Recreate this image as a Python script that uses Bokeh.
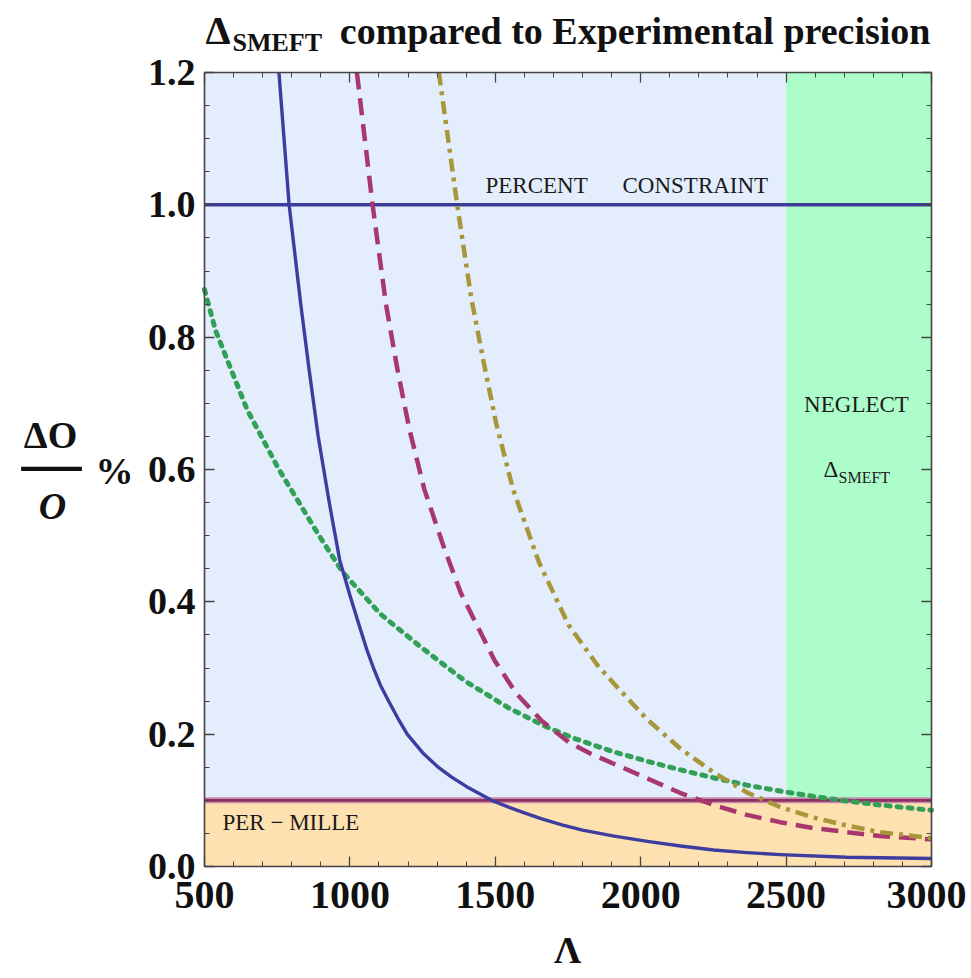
from bokeh.plotting import figure
from bokeh.models import (LinearAxis, FixedTicker, PrintfTickFormatter, CustomJSTickFormatter,
                          BoxAnnotation, Label, Range1d)
from bokeh.embed import file_html
from bokeh.resources import INLINE

# ---------------- data ----------------
LAM_BLUE = [756, 791, 831, 860, 891, 929, 965, 1000, 1035, 1058, 1081, 1105, 1133, 1165, 1197,
            1250, 1301, 1350, 1400, 1492, 1550, 1600, 1660, 1729, 1800, 1909, 2023, 2137,
            2251, 2365, 2479, 2708, 3000]
V_BLUE = [1.2, 1.0, 0.85, 0.75, 0.65, 0.55, 0.463, 0.41, 0.36, 0.328, 0.30, 0.274, 0.25, 0.224,
          0.20, 0.172, 0.151, 0.135, 0.121, 0.099, 0.089, 0.081, 0.072, 0.063, 0.055, 0.046,
          0.038, 0.031, 0.025, 0.021, 0.018, 0.014, 0.012]

LAM_MAG = [1024, 1078, 1124, 1164, 1205, 1256, 1325, 1382, 1440, 1498, 1573, 1660, 1752,
           1830, 1909, 2023, 2137, 2251, 2365, 2479, 2594, 2708, 2822, 3000]
V_MAG = [1.2, 1.0, 0.85, 0.75, 0.66, 0.57, 0.48, 0.413, 0.362, 0.311, 0.261, 0.220, 0.188,
         0.170, 0.155, 0.133, 0.111, 0.093, 0.078, 0.067, 0.058, 0.052, 0.046, 0.041]

LAM_OLIVE = [1306, 1369, 1417, 1461, 1503, 1561, 1650, 1752, 1850, 1909, 2023, 2137, 2251,
             2365, 2479, 2594, 2708, 2822, 3000]
V_OLIVE = [1.2, 1.0, 0.86, 0.76, 0.67, 0.57, 0.46, 0.365, 0.305, 0.276, 0.222, 0.178, 0.142,
           0.112, 0.090, 0.074, 0.062, 0.052, 0.043]

LAM_GREEN = [500, 538, 647, 756, 894, 975, 1104, 1243, 1394, 1544, 1671, 1775, 1909, 2023,
             2137, 2251, 2365, 2479, 2594, 2708, 2822, 3000]
V_GREEN = [0.872, 0.81, 0.69, 0.60, 0.50, 0.445, 0.382, 0.332, 0.281, 0.240, 0.212, 0.193,
           0.173, 0.159, 0.146, 0.134, 0.123, 0.114, 0.106, 0.099, 0.093, 0.085]

X_TICKS = [500, 1000, 1500, 2000, 2500, 3000]
Y_TICKS = [0.0, 0.2, 0.4, 0.6, 0.8, 1.0, 1.2]

PERCENT = 1.0
PERMILLE = 0.1
NEGLECT_FROM = 2500
X_MIN, X_MAX = 500, 3000
Y_MIN, Y_MAX = 0.0, 1.2

X_MINOR = [x for x in range(X_MIN, X_MAX + 1, 100)]
Y_MINOR = [round(0.05 * i, 2) for i in range(0, 25)]

SERIF = "Liberation Serif"

# ---------------- layout: the frame fills the canvas; axes sit at fixed locations ----------
W, H = 966, 975
FX0, FX1, FY0, FY1 = 204, 931, 866, 72          # plot box edges on the canvas (px)
KX = (FX1 - FX0) / (X_MAX - X_MIN)
KY = (FY0 - FY1) / (Y_MAX - Y_MIN)

def dx(px):
    return X_MIN + (px - FX0) / KX

def dy(py):
    return Y_MIN + (FY0 - py) / KY

p = figure(width=W, height=H, title=None,
           x_range=Range1d(dx(0), dx(W)), y_range=Range1d(dy(H), dy(0)),
           output_backend="svg", toolbar_location=None,
           min_border=0, min_border_left=0, min_border_right=0,
           min_border_top=0, min_border_bottom=0)
p.grid.visible = False
p.background_fill_color = "white"
p.border_fill_color = "white"
p.outline_line_color = None

# background regions
p.add_layout(BoxAnnotation(left=X_MIN, right=NEGLECT_FROM, bottom=PERMILLE, top=Y_MAX,
                           fill_color="#E3EDFC", fill_alpha=1.0, line_color=None,
                           level="underlay"))
p.add_layout(BoxAnnotation(left=NEGLECT_FROM, right=X_MAX, bottom=PERMILLE, top=Y_MAX,
                           fill_color="#ADFDCB", fill_alpha=1.0, line_color=None,
                           level="underlay"))
p.add_layout(BoxAnnotation(left=X_MIN, right=X_MAX, bottom=Y_MIN, top=PERMILLE,
                           fill_color="#FEE1B0", fill_alpha=1.0, line_color=None,
                           level="underlay"))

# reference lines
p.line([X_MIN, X_MAX], [PERCENT, PERCENT], line_color="#3D3D99", line_width=3.5)
p.line([X_MIN, X_MAX], [PERMILLE, PERMILLE], line_color="#C98AAB", line_width=6)
p.line([X_MIN, X_MAX], [PERMILLE, PERMILLE], line_color="#8E2F62", line_width=2.8)

# curves
p.line(LAM_GREEN, V_GREEN, line_color="#33A058", line_width=5, line_dash="4 7",
       line_cap="round", line_join="round")
p.line(LAM_BLUE, V_BLUE, line_color="#3D3DA0", line_width=3.4, line_join="round")
p.line(LAM_MAG, V_MAG, line_color="#A8366F", line_width=4.5, line_dash="17 9",
       line_join="round")
p.line(LAM_OLIVE, V_OLIVE, line_color="#A8963B", line_width=4.5, line_dash="13 6 4 6",
       line_join="round")

# axes
def style_axis(ax, labels=True, size="38px"):
    ax.axis_line_color = "#444444"
    ax.axis_line_width = 1.6
    ax.major_tick_in = 10
    ax.major_tick_out = 0
    ax.minor_tick_in = 5
    ax.minor_tick_out = 0
    ax.major_tick_line_color = "#444444"
    ax.minor_tick_line_color = "#444444"
    ax.major_tick_line_width = 1.3
    ax.minor_tick_line_width = 1.0
    ax.major_label_text_font = SERIF
    ax.major_label_text_font_style = "bold"
    ax.major_label_text_font_size = size
    ax.major_label_text_color = "#111111"
    if not labels:
        ax.formatter = CustomJSTickFormatter(code="return ''")

for ax in p.xaxis:
    ax.ticker = FixedTicker(ticks=X_TICKS, minor_ticks=X_MINOR)
    ax.fixed_location = Y_MIN
    ax.bounds = (X_MIN, X_MAX)
    style_axis(ax, size="40px")
    ax.major_label_standoff = 15
for ax in p.yaxis:
    ax.ticker = FixedTicker(ticks=Y_TICKS, minor_ticks=Y_MINOR)
    ax.formatter = PrintfTickFormatter(format="%.1f")
    ax.fixed_location = X_MIN
    ax.bounds = (Y_MIN, Y_MAX)
    style_axis(ax)
    ax.major_label_standoff = 9

top_ax = LinearAxis(ticker=FixedTicker(ticks=X_TICKS, minor_ticks=X_MINOR),
                    fixed_location=Y_MAX, bounds=(X_MIN, X_MAX))
style_axis(top_ax, labels=False)
p.add_layout(top_ax, "above")
right_ax = LinearAxis(ticker=FixedTicker(ticks=Y_TICKS, minor_ticks=Y_MINOR),
                      fixed_location=X_MAX, bounds=(Y_MIN, Y_MAX))
style_axis(right_ax, labels=False)
p.add_layout(right_ax, "right")

BASE_SHIFT = 0.34   # rendered baseline sits this fraction of the font size below y

def lab(text, px, py, size, style="normal", align="left", baseline="alphabetic",
        color="#1a1a1a"):
    y = py - BASE_SHIFT * size if baseline == "alphabetic" else py
    p.add_layout(Label(x=dx(px), y=dy(y), text=text, text_font=SERIF,
                       text_font_size=f"{size}px", text_font_style=style, text_align=align,
                       text_baseline=baseline, text_color=color))

# title
lab("Δ", 205, 44, 40, "bold", color="#111111")
lab("SMEFT", 232, 51, 26, "bold", color="#111111")
lab("compared to Experimental precision", 930, 43, 38, "bold", align="right",
    color="#111111")

# y axis label
lab("ΔO", 50, 447, 38, "bold", align="center", color="#111111")
lab("\u2014", 51, 462, 60, "bold", align="center", baseline="middle", color="#111111")
lab("O", 52, 518, 38, "bold italic", align="center", color="#111111")
lab("%", 95, 483, 38, "bold", color="#111111")

# x axis label
lab("Λ", 567, 962, 38, "bold", align="center", color="#111111")

# in-plot texts
lab("PERCENT", 485, 193, 23)
lab("CONSTRAINT", 622, 193, 23)
lab("NEGLECT", 856, 412, 23, align="center")
lab("Δ", 823, 477, 23)
lab("SMEFT", 838, 482, 16)
lab("PER \u2212 MILLE", 222, 830, 23)

open("out.html", "w").write(file_html(p, INLINE))
